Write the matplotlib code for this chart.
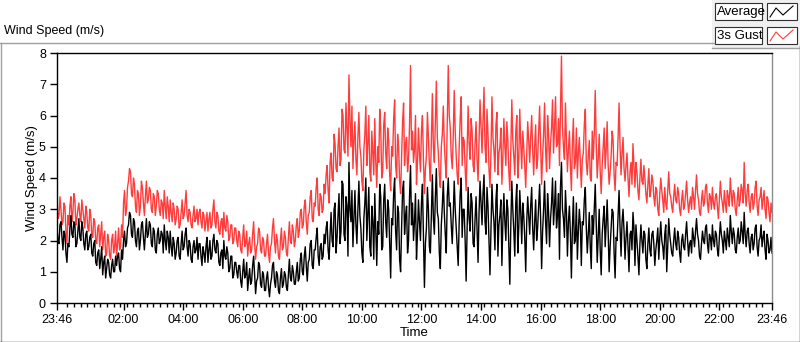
import numpy as np
import matplotlib.pyplot as plt
from matplotlib.lines import Line2D
from matplotlib.patches import Rectangle

plt.rcParams['font.family'] = ['Liberation Sans', 'DejaVu Sans']

W, H = 800, 342

# one reading every 2 minutes, starting 23:46 (one row = one hour)
step_min = 2

gust = [
    3.3, 2.7, 2.8, 3.4, 3.0, 2.5, 2.6, 3.2, 3.1, 2.3, 1.9, 2.8, 2.5, 3.1, 3.4, 2.6, 2.9, 3.5, 3.3, 2.5, 2.7, 3.0, 3.2, 2.8, 2.6, 3.3, 3.0, 2.7, 2.4, 3.1,
    2.9, 2.4, 2.3, 3.0, 2.8, 2.2, 2.1, 2.7, 2.6, 2.0, 1.9, 2.4, 2.5, 1.8, 2.2, 2.6, 1.7, 2.1, 2.3, 1.5, 1.6, 2.2, 2.0, 1.5, 1.4, 2.0, 2.2, 1.6, 1.8, 2.3,
    1.5, 1.9, 2.4, 1.7, 1.8, 2.5, 2.1, 3.2, 3.6, 2.8, 3.0, 3.7, 3.9, 4.3, 4.2, 3.5, 3.4, 4.0, 3.8, 3.1, 2.9, 3.6, 3.5, 2.8, 3.1, 3.9, 3.7, 3.2, 2.8, 3.4,
    3.9, 3.2, 3.3, 3.7, 3.6, 3.0, 2.9, 3.5, 3.4, 2.8, 3.1, 3.6, 3.5, 3.0, 2.8, 3.3, 3.2, 2.7, 3.6, 3.1, 2.7, 3.4, 3.1, 2.6, 3.3, 2.9, 2.6, 3.2, 3.0, 2.5,
    2.7, 3.1, 3.0, 2.4, 2.5, 2.9, 3.3, 2.7, 2.8, 3.2, 3.6, 2.8, 2.6, 3.0, 2.9, 2.5, 2.4, 2.8, 3.1, 2.6, 2.7, 3.0, 2.5, 2.9, 3.0, 2.6, 2.4, 2.9, 2.8, 2.3,
    2.6, 2.9, 2.3, 2.7, 2.9, 2.4, 2.5, 3.0, 3.3, 2.6, 2.4, 2.9, 2.8, 2.3, 2.2, 2.6, 2.7, 2.1, 2.9, 2.4, 2.3, 2.8, 2.6, 2.0, 2.1, 2.5, 2.5, 1.9, 2.0, 2.4,
    2.4, 2.0, 1.8, 2.3, 2.2, 1.7, 1.6, 2.1, 2.5, 1.8, 1.9, 2.3, 1.5, 1.9, 2.1, 1.6, 1.7, 2.2, 2.6, 1.9, 1.4, 1.8, 1.9, 2.4, 2.3, 1.7, 1.6, 2.1, 2.0, 1.5,
    1.5, 1.9, 2.2, 1.6, 1.3, 1.8, 1.9, 2.4, 2.7, 2.0, 1.6, 2.2, 2.0, 1.5, 1.4, 2.0, 2.4, 1.7, 1.8, 2.3, 2.1, 1.6, 1.5, 2.1, 2.6, 2.0, 1.9, 2.5, 2.3, 1.8,
    2.0, 2.5, 2.7, 2.1, 2.3, 2.9, 3.0, 2.4, 2.5, 3.1, 3.3, 2.6, 2.2, 2.8, 2.9, 3.4, 3.6, 2.7, 2.6, 3.2, 3.1, 3.7, 4.0, 3.0, 2.8, 3.5, 3.4, 2.9, 3.0, 3.8,
    3.5, 4.1, 4.4, 3.6, 3.2, 4.5, 4.8, 4.0, 3.9, 5.4, 5.1, 4.3, 4.2, 5.0, 5.6, 4.4, 4.6, 6.2, 6.0, 4.9, 4.8, 6.4, 5.5, 4.7, 7.3, 5.9, 5.0, 6.3, 4.3, 5.2,
    5.8, 4.6, 4.1, 5.3, 6.1, 5.0, 4.7, 3.9, 3.6, 4.9, 5.4, 6.3, 4.4, 5.1, 6.0, 4.2, 3.9, 5.5, 4.8, 4.1, 5.9, 4.5, 3.7, 5.0, 4.5, 6.2, 5.6, 4.0, 4.2, 5.7,
    6.1, 4.8, 4.3, 5.6, 5.2, 4.1, 3.6, 5.0, 4.7, 5.9, 6.5, 4.4, 4.0, 5.4, 5.0, 3.9, 3.5, 4.6, 5.8, 6.4, 4.4, 5.1, 5.3, 4.2, 4.6, 5.7, 7.6, 4.9, 5.5, 4.5,
    4.9, 6.0, 3.8, 4.5, 5.6, 4.8, 4.2, 5.5, 6.0, 4.6, 3.5, 4.3, 4.7, 6.1, 5.3, 4.4, 3.9, 5.2, 6.7, 5.0, 4.5, 5.8, 7.1, 5.3, 4.8, 4.1, 3.7, 5.0, 5.4, 6.3,
    5.1, 4.5, 4.0, 5.8, 7.6, 6.0, 5.6, 4.7, 4.3, 5.3, 6.8, 5.5, 4.7, 4.1, 3.8, 5.0, 5.9, 6.6, 4.4, 5.3, 5.2, 4.3, 3.6, 4.9, 6.3, 5.1, 4.6, 5.9, 5.5, 4.4,
    4.2, 5.1, 5.8, 4.6, 3.9, 5.2, 6.5, 5.6, 4.8, 5.9, 6.9, 5.0, 4.5, 6.2, 5.4, 4.3, 3.7, 4.8, 6.6, 5.3, 4.9, 4.2, 5.7, 6.1, 4.1, 4.8, 5.0, 5.6, 3.8, 4.7,
    5.9, 5.0, 4.4, 5.8, 5.2, 4.2, 3.6, 4.9, 6.5, 5.2, 4.7, 4.1, 5.5, 6.0, 4.0, 4.6, 6.2, 5.1, 4.3, 5.5, 5.0, 4.4, 3.7, 4.8, 5.8, 5.2, 4.5, 5.3, 6.0, 4.9,
    4.1, 5.0, 5.7, 4.3, 4.6, 5.5, 6.3, 5.0, 3.8, 4.7, 5.4, 6.4, 4.9, 4.2, 6.0, 5.4, 4.3, 5.1, 5.6, 6.5, 4.8, 5.6, 6.6, 5.0, 5.1, 5.9, 4.4, 6.2, 7.9, 5.6,
    5.0, 4.6, 6.4, 5.2, 4.2, 4.9, 5.5, 4.4, 3.6, 5.1, 5.9, 4.3, 4.5, 5.6, 4.0, 4.8, 5.3, 4.5, 3.7, 4.6, 4.8, 5.7, 6.2, 4.5, 4.1, 4.7, 5.2, 4.0, 3.9, 5.5,
    4.6, 5.4, 6.8, 5.1, 4.0, 4.6, 5.4, 4.2, 3.5, 4.4, 5.0, 5.6, 4.3, 4.9, 5.8, 4.4, 3.8, 4.2, 4.7, 5.5, 5.2, 4.1, 3.6, 4.5, 4.4, 5.3, 6.4, 5.0, 4.1, 4.8,
    5.3, 4.3, 3.9, 4.4, 4.8, 4.0, 3.4, 4.2, 4.5, 3.8, 5.1, 4.4, 3.7, 4.5, 4.2, 3.6, 3.3, 4.0, 4.6, 3.9, 3.8, 4.4, 4.0, 3.5, 3.2, 3.8, 4.3, 3.4, 3.6, 4.1,
    3.9, 3.4, 3.1, 3.7, 3.6, 3.0, 2.8, 3.5, 4.0, 3.6, 3.3, 2.9, 3.7, 3.2, 3.0, 3.6, 4.2, 3.5, 3.4, 3.1, 2.9, 3.4, 3.8, 3.3, 3.2, 3.7, 3.5, 3.0, 2.8, 3.3,
    3.6, 3.0, 3.1, 3.5, 3.9, 3.3, 2.9, 3.2, 3.4, 3.0, 3.7, 3.4, 3.0, 3.6, 4.1, 3.5, 3.3, 2.9, 2.8, 3.3, 3.6, 3.1, 3.2, 3.7, 3.8, 3.2, 2.9, 3.5, 3.4, 3.0,
    3.7, 3.2, 3.0, 3.4, 3.5, 3.1, 2.7, 3.3, 3.9, 3.4, 3.2, 2.9, 3.6, 3.2, 2.9, 3.6, 3.4, 3.1, 4.0, 3.5, 3.1, 3.6, 3.5, 3.0, 2.8, 3.3, 3.7, 3.1, 3.3, 3.8,
    3.6, 3.2, 4.5, 3.5, 3.1, 3.6, 3.8, 3.2, 2.9, 3.4, 3.5, 3.0, 3.2, 3.7, 3.9, 3.1, 2.8, 3.3, 3.4, 3.7, 3.0, 3.3, 3.6, 3.0, 2.7, 3.4, 3.3, 2.9, 2.6, 3.2,
    2.9,
]

average = [
    2.4, 2.0, 1.9, 2.5, 2.6, 2.1, 1.7, 2.3, 2.2, 1.6, 1.3, 1.9, 1.8, 2.4, 2.8, 2.2, 2.1, 2.6, 2.5, 1.8, 1.9, 2.3, 2.7, 2.1, 2.0, 2.6, 2.4, 1.9, 1.7, 2.2,
    2.3, 1.7, 1.8, 2.1, 2.2, 1.6, 1.5, 1.9, 2.0, 1.3, 1.2, 1.6, 1.7, 1.1, 1.4, 1.8, 0.9, 1.3, 1.5, 0.8, 1.1, 1.4, 1.3, 0.9, 0.8, 1.2, 1.4, 1.0, 1.0, 1.5,
    1.2, 1.5, 1.6, 1.1, 1.0, 1.7, 1.4, 2.0, 2.3, 1.8, 1.9, 2.4, 2.5, 2.9, 2.8, 2.2, 2.1, 2.7, 2.6, 2.0, 1.8, 2.3, 2.4, 1.7, 2.0, 2.5, 2.6, 2.1, 1.7, 2.2,
    2.7, 2.1, 2.2, 2.6, 2.5, 1.9, 1.8, 2.4, 2.3, 1.7, 1.6, 2.2, 2.4, 1.9, 2.0, 2.3, 2.2, 1.6, 2.5, 2.0, 1.7, 2.3, 2.1, 1.6, 2.3, 1.8, 1.5, 2.1, 1.9, 1.4,
    1.6, 2.0, 2.1, 1.5, 1.4, 1.9, 2.3, 1.7, 1.8, 2.2, 2.4, 1.8, 1.5, 2.0, 1.9, 1.4, 1.3, 1.8, 2.0, 1.6, 1.7, 2.1, 1.4, 1.9, 1.9, 1.5, 1.2, 1.8, 1.6, 1.3,
    1.8, 2.1, 1.3, 1.7, 2.0, 1.4, 1.5, 2.0, 2.2, 1.7, 1.6, 2.0, 1.9, 1.3, 1.2, 1.6, 1.7, 1.1, 2.0, 1.5, 1.4, 1.8, 1.6, 1.0, 1.1, 1.5, 1.5, 0.8, 0.9, 1.3,
    1.3, 1.0, 0.8, 1.2, 1.2, 0.7, 0.5, 1.0, 1.4, 0.8, 0.9, 1.3, 0.4, 0.8, 1.1, 0.6, 0.7, 1.2, 1.5, 0.9, 0.3, 0.7, 0.8, 1.3, 1.2, 0.6, 0.5, 1.0, 0.9, 0.4,
    0.4, 0.8, 1.0, 0.5, 0.2, 0.6, 0.8, 1.2, 1.3, 0.7, 0.5, 1.0, 0.9, 0.4, 0.3, 0.8, 1.1, 0.5, 0.6, 1.0, 0.9, 0.5, 0.4, 0.9, 1.4, 0.8, 0.7, 1.2, 1.0, 0.6,
    0.6, 1.0, 1.3, 0.7, 0.8, 1.4, 1.6, 1.0, 0.9, 1.5, 1.8, 1.2, 0.7, 1.3, 1.4, 1.9, 2.0, 1.2, 1.1, 1.7, 1.7, 2.1, 2.4, 1.5, 1.2, 1.8, 1.9, 1.4, 1.5, 2.2,
    1.9, 2.4, 2.6, 1.7, 1.4, 2.2, 2.9, 2.0, 1.8, 3.0, 3.2, 1.6, 2.1, 2.8, 3.5, 1.9, 2.3, 3.9, 3.8, 2.2, 2.0, 3.4, 3.1, 1.5, 4.5, 3.0, 2.6, 3.6, 1.8, 2.7,
    3.6, 2.5, 1.9, 3.0, 3.9, 2.8, 2.4, 1.6, 1.3, 2.7, 3.2, 4.0, 2.0, 2.9, 3.7, 1.8, 1.5, 3.1, 2.6, 1.4, 3.5, 2.3, 1.2, 2.6, 2.2, 3.8, 3.4, 1.7, 1.8, 3.3,
    3.8, 2.6, 2.1, 3.3, 3.0, 1.9, 0.8, 2.7, 2.5, 3.5, 4.0, 2.3, 1.7, 3.1, 2.9, 1.4, 1.0, 2.4, 3.6, 3.9, 2.2, 2.8, 3.1, 1.6, 2.0, 3.4, 4.4, 2.5, 3.2, 2.0,
    2.6, 3.5, 1.4, 2.2, 3.3, 2.6, 2.0, 3.2, 3.8, 2.1, 0.5, 1.9, 2.4, 3.7, 3.0, 1.8, 1.6, 2.9, 4.1, 2.7, 2.2, 3.4, 4.3, 2.9, 2.7, 1.6, 1.1, 2.5, 3.1, 3.9,
    2.9, 2.2, 1.6, 3.4, 4.0, 3.1, 3.2, 2.5, 1.9, 2.8, 3.9, 3.0, 2.4, 1.8, 1.2, 2.6, 3.5, 4.0, 2.1, 3.0, 3.0, 2.0, 0.7, 2.4, 3.7, 2.7, 2.3, 3.5, 3.2, 1.9,
    1.8, 2.7, 3.4, 2.3, 1.3, 2.9, 3.9, 3.2, 2.5, 3.5, 4.1, 2.6, 2.2, 3.7, 3.1, 2.0, 0.9, 2.4, 3.8, 3.0, 2.6, 1.7, 3.3, 3.8, 1.5, 2.5, 2.8, 3.3, 1.2, 2.6,
    3.5, 2.6, 2.0, 3.3, 3.0, 1.8, 0.6, 2.5, 3.9, 3.0, 2.3, 1.5, 3.2, 3.8, 1.6, 2.4, 3.6, 2.9, 1.9, 3.2, 2.8, 2.1, 1.0, 2.6, 3.4, 2.8, 2.2, 3.1, 3.7, 2.4,
    1.7, 2.6, 3.3, 2.0, 2.4, 3.1, 3.8, 2.7, 1.1, 2.3, 3.0, 3.9, 2.6, 1.9, 3.5, 2.9, 1.8, 2.7, 3.2, 4.0, 2.5, 3.1, 3.9, 2.4, 2.8, 3.5, 1.4, 3.7, 4.5, 3.0,
    2.7, 2.1, 3.6, 2.9, 1.5, 2.6, 3.1, 2.2, 0.8, 2.4, 3.4, 1.9, 2.0, 3.2, 1.4, 2.3, 3.0, 2.5, 1.2, 2.6, 2.5, 3.3, 3.7, 2.4, 1.6, 2.2, 2.9, 1.8, 1.1, 2.8,
    2.2, 3.0, 3.8, 2.6, 1.3, 2.1, 3.0, 1.7, 0.9, 2.2, 2.7, 3.1, 1.8, 2.5, 3.3, 2.3, 1.0, 1.8, 2.4, 3.0, 2.9, 1.6, 0.8, 2.1, 2.0, 2.8, 3.6, 2.4, 1.5, 2.6,
    3.0, 2.3, 1.4, 2.1, 2.6, 1.8, 1.0, 2.2, 2.3, 1.7, 2.9, 2.4, 1.2, 2.5, 2.0, 1.5, 0.9, 1.9, 2.5, 2.0, 1.6, 2.3, 2.2, 1.4, 1.1, 1.9, 2.4, 1.7, 1.5, 2.2,
    2.3, 1.9, 1.2, 1.7, 2.0, 2.4, 1.4, 2.1, 2.6, 2.0, 1.8, 1.4, 2.2, 2.5, 1.0, 1.8, 2.7, 2.2, 1.9, 1.6, 1.5, 2.0, 2.4, 1.9, 1.7, 2.3, 2.1, 1.6, 1.3, 2.0,
    2.2, 1.8, 1.7, 2.2, 2.6, 2.0, 1.5, 1.9, 2.0, 1.6, 2.4, 2.1, 1.8, 2.3, 2.7, 2.2, 2.0, 1.5, 1.4, 1.9, 2.3, 2.0, 1.9, 2.4, 2.5, 1.9, 1.6, 2.2, 2.1, 1.7,
    2.5, 2.0, 1.8, 2.3, 2.2, 1.7, 1.5, 2.1, 2.6, 2.2, 2.0, 1.6, 2.3, 2.0, 1.7, 2.4, 2.1, 1.8, 2.8, 2.3, 1.9, 2.4, 2.2, 1.7, 1.6, 2.1, 2.4, 1.9, 2.0, 2.6,
    2.3, 1.9, 2.9, 2.2, 1.8, 2.3, 2.4, 1.9, 1.6, 2.1, 2.2, 1.7, 1.9, 2.4, 2.5, 1.8, 1.5, 2.0, 2.1, 2.5, 1.8, 2.1, 2.3, 1.7, 1.4, 2.2, 2.0, 1.6, 1.7, 2.1,
    1.6,
]

tick_labels = ["23:46", "02:00", "04:00", "06:00", "08:00", "10:00", "12:00",
               "14:00", "16:00", "18:00", "20:00", "22:00", "23:46"]
tick_minutes = [0, 134, 254, 374, 494, 614, 734, 854, 974, 1094, 1214, 1334, 1440]


def fx(x):
    return x / W


def fy(y):
    return 1 - y / H


def fline(xs, ys, **kw):
    fig.add_artist(Line2D([fx(v) for v in xs], [fy(v) for v in ys],
                          transform=fig.transFigure, **kw))


def fbox(x0, y0, x1, y1, **kw):
    fig.add_artist(Rectangle((fx(x0), fy(y1)), fx(x1) - fx(x0), fy(y0) - fy(y1),
                             transform=fig.transFigure, **kw))


fig = plt.figure(figsize=(W / 100, H / 100), dpi=100)

# outer panel frame
fline([0.5, 0.5], [42.5, 342], color='#a0a0a0', lw=1)
fline([0, 714], [42.5, 42.5], color='#a0a0a0', lw=1)
fline([799.5, 799.5], [46, 342], color='#202020', lw=1)
fline([0, 800], [341.5, 341.5], color='#202020', lw=1)

# legend area
fbox(712, 0, 800, 48, facecolor='#f0f0f0', edgecolor='none')
fline([712, 800], [48, 48], color='#a0a0a0', lw=1)
for row, (name, col) in enumerate([("Average", 'black'), ("3s Gust", '#ff3c3c')]):
    y0 = 3 + row * 24
    fbox(715, y0, 762, y0 + 17, facecolor='white', edgecolor='#303030', lw=0.8)
    fig.text(fx(717), fy(y0 + 9), name, fontsize=9.5, va='center', ha='left')
    fbox(767, y0, 797, y0 + 17, facecolor='white', edgecolor='#303030', lw=0.8)
    fline([770, 776, 783, 793], [y0 + 14, y0 + 5, y0 + 12, y0 + 3], color=col, lw=0.8)

fig.text(fx(4), fy(31), "Wind Speed (m/s)", fontsize=9, va='center', ha='left')

ax = fig.add_axes([fx(57), fy(303), (772 - 57) / W, 250 / H])
t = np.arange(len(gust)) * step_min
ax.plot(t, gust, color='#ff3c3c', lw=1.0)
ax.plot(t, average, color='black', lw=1.0)

ax.set_xlim(0, 1440)
ax.set_ylim(0, 8)
ax.set_yticks(range(9))
ax.set_xticks(tick_minutes, tick_labels)
minor = [m for m in np.arange(-6, 1446, 40 / 3) if 10 < m < 1432]
ax.set_xticks(minor, minor=True)
ax.tick_params(axis='both', which='major', direction='out', length=5, width=1,
               labelsize=9, pad=3)
ax.tick_params(axis='x', which='minor', direction='out', length=3, width=1)
for s in ['left', 'bottom', 'top']:
    ax.spines[s].set_color('black')
    ax.spines[s].set_linewidth(1)
ax.spines['right'].set_color('#8c8c8c')
ax.spines['right'].set_linewidth(1)

fig.text(fx(32), fy(178), "Wind Speed (m/s)", fontsize=9.5, rotation=90,
         va='center', ha='center')
fig.text(fx(414), fy(333), "Time", fontsize=9.5, va='center', ha='center')

fig.savefig('out.png', dpi=100)
